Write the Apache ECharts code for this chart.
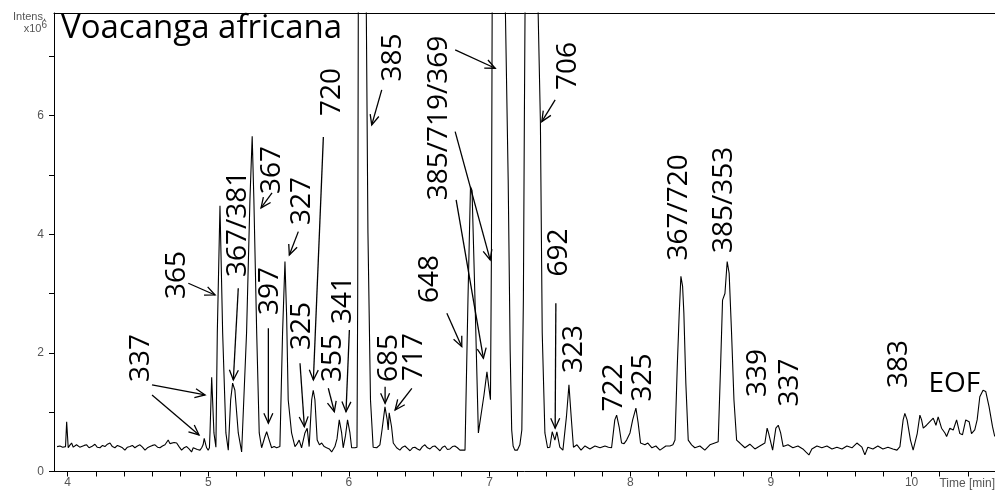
<!DOCTYPE html>
<html>
<head>
<meta charset="utf-8">
<script src="https://cdn.jsdelivr.net/npm/echarts@6/dist/echarts.min.js"></script>
<style>
html,body{margin:0;padding:0;background:#fff;}
#chart{width:995px;height:490px;}
</style>
</head>
<body>
<div id="chart"></div>
<script>
// ---- trace data (time in min, intensity x10^6) ----
const times = [3.925,3.945,3.965,3.985,3.993,4.004,4.015,4.028,4.040,4.052,4.063,4.073,4.086,4.100,4.118,4.135,4.152,4.171,4.194,4.210,4.230,4.248,4.265,4.283,4.301,4.318,4.336,4.354,4.372,4.390,4.407,4.425,4.443,4.460,4.478,4.496,4.514,4.532,4.550,4.567,4.585,4.603,4.621,4.639,4.656,4.674,4.692,4.715,4.727,4.739,4.757,4.775,4.792,4.810,4.828,4.846,4.863,4.881,4.893,4.905,4.922,4.941,4.953,4.963,4.971,4.980,4.988,4.999,
5.008,5.012,5.024,5.040,5.054,5.064,5.083,5.102,5.125,5.142,5.159,5.173,5.189,5.213,5.237,5.272,5.296,5.312,5.324,5.344,5.362,5.379,5.403,5.415,5.433,5.450,5.468,5.486,5.509,5.528,5.545,5.557,5.568,5.592,5.616,5.632,5.646,5.663,5.687,5.703,5.717,5.735,5.746,5.758,5.774,5.790,5.806,5.824,5.841,5.860,5.877,5.900,5.915,5.931,5.948,5.959,5.975,5.990,
6.007,6.019,6.042,6.057,6.062,6.067,6.096,6.121,6.135,6.153,6.172,6.197,6.220,6.235,6.256,6.272,6.279,6.286,6.296,6.303,6.315,6.339,6.362,6.380,6.398,6.416,6.434,6.452,6.469,6.487,6.504,6.522,6.540,6.558,6.576,6.594,6.611,6.629,6.647,6.665,6.682,6.700,6.718,6.736,6.753,6.771,6.789,6.803,6.825,6.846,6.864,6.875,6.898,6.920,6.932,6.960,6.981,6.995,
7.006,7.013,7.019,7.059,7.100,7.132,7.146,7.157,7.167,7.179,7.197,7.215,7.229,7.240,7.247,7.254,7.294,7.334,7.361,7.374,7.393,7.412,7.428,7.445,7.464,7.478,7.499,7.521,7.546,7.564,7.580,7.596,7.621,7.650,7.678,7.713,7.749,7.785,7.820,7.845,7.867,7.890,7.903,7.921,7.938,7.956,7.974,7.998,
8.017,8.040,8.056,8.073,8.104,8.125,8.154,8.182,8.211,8.225,8.253,8.282,8.303,8.318,8.334,8.348,8.360,8.372,8.381,8.395,8.412,8.436,8.459,8.495,8.530,8.566,8.601,8.625,8.642,8.656,8.673,8.689,8.703,8.720,8.737,8.756,8.779,8.815,8.850,8.886,8.921,8.957,8.973,8.983,8.993,
9.012,9.035,9.052,9.069,9.087,9.121,9.156,9.192,9.227,9.248,9.270,9.291,9.327,9.362,9.398,9.434,9.469,9.505,9.540,9.576,9.611,9.647,9.668,9.689,9.725,9.760,9.796,9.832,9.867,9.896,9.917,9.940,9.952,9.968,9.992,
10.011,10.040,10.059,10.071,10.083,10.106,10.130,10.154,10.173,10.189,10.213,10.237,10.249,10.272,10.296,10.320,10.343,10.362,10.385,10.409,10.426,10.449,10.466,10.485,10.508,10.527,10.551,10.575,10.591];
const intensities = [0.42,0.43,0.41,0.42,0.84,0.40,0.44,0.48,0.41,0.42,0.45,0.48,0.41,0.40,0.44,0.45,0.40,0.42,0.46,0.41,0.40,0.44,0.42,0.46,0.48,0.42,0.40,0.44,0.42,0.40,0.36,0.41,0.42,0.44,0.40,0.43,0.45,0.41,0.36,0.40,0.42,0.44,0.45,0.41,0.40,0.43,0.45,0.53,0.47,0.45,0.49,0.48,0.42,0.36,0.40,0.42,0.38,0.33,0.40,0.40,0.37,0.36,0.40,0.45,0.56,0.47,0.40,0.36,
0.40,0.65,1.59,0.65,0.41,2.34,4.48,2.34,0.65,0.36,1.21,1.49,1.37,0.65,0.33,2.34,4.58,5.65,4.58,2.34,0.65,0.40,0.59,0.67,0.53,0.40,0.42,0.40,0.42,2.34,3.54,2.61,1.21,0.65,0.42,0.47,0.53,0.40,0.65,0.73,0.42,1.21,1.37,1.21,0.53,0.45,0.48,0.42,0.40,0.38,0.33,0.42,0.55,0.87,0.65,0.40,0.60,0.87,
0.65,0.40,0.40,0.41,2.89,8.5,14.0,8.5,4.02,1.21,0.41,0.40,0.45,0.70,1.09,0.87,0.70,0.99,0.99,0.75,0.48,0.40,0.36,0.41,0.43,0.39,0.35,0.40,0.41,0.38,0.36,0.42,0.45,0.40,0.38,0.42,0.43,0.39,0.35,0.41,0.43,0.37,0.38,0.42,0.43,0.40,0.36,0.33,0.36,2.89,4.80,4.74,2.72,0.65,0.62,1.29,1.68,1.41,
1.21,3.74,8.5,18.0,9.5,4.92,2.05,0.70,0.43,0.36,0.36,0.45,0.70,2.89,5.93,8.6,19.0,9.0,5.90,2.34,0.65,0.40,0.41,0.67,0.53,0.67,0.41,0.36,0.92,1.46,0.92,0.41,0.45,0.36,0.43,0.38,0.43,0.40,0.43,0.41,0.40,0.87,0.95,0.75,0.48,0.47,0.53,0.65,
0.87,1.07,0.82,0.48,0.45,0.48,0.40,0.43,0.36,0.33,0.43,0.43,0.45,0.53,1.77,2.67,3.29,3.12,2.67,1.49,0.53,0.45,0.40,0.43,0.36,0.45,0.48,0.50,1.77,2.89,3.00,3.54,3.34,2.34,1.21,0.53,0.48,0.40,0.46,0.38,0.43,0.48,0.73,0.65,0.67,
0.36,0.73,0.78,0.65,0.42,0.45,0.40,0.43,0.38,0.33,0.28,0.38,0.43,0.40,0.43,0.38,0.41,0.38,0.43,0.40,0.48,0.41,0.28,0.41,0.38,0.43,0.38,0.41,0.38,0.36,0.42,0.87,0.98,0.87,0.53,
0.36,0.64,0.95,0.87,0.73,0.78,0.84,0.90,0.78,0.92,0.73,0.65,0.59,0.73,0.70,0.87,0.64,0.62,0.87,0.84,0.64,0.70,0.87,1.26,1.37,1.35,1.09,0.76,0.59];

// ---- axis ticks / labels ----
const xTickValues = [4,4.2,4.4,4.6,4.8,5,5.2,5.4,5.6,5.8,6,6.2,6.4,6.6,6.8,7,7.2,7.4,7.6,7.8,8,8.2,8.4,8.6,8.8,9,9.2,9.4,9.6,9.8,10,10.2,10.4];
const xLabelValues = [4,5,6,7,8,9,10];
const yTickValues = [0,1,2,3,4,5,6,7];
const yLabelValues = [0,2,4,6];

// ---- peak annotations (m/z labels), anchored in data units ----
const peakLabels = ['337','365','367/381','367','397','327','720','325','355','341','385','385/719/369','648','706','692','323','685','717','722','325','367/720','385/353','339','337','383'];
const peakLabelTimes = [4.521,4.781,5.208,5.451,5.437,5.664,5.880,5.664,5.885,5.958,6.316,6.641,6.577,7.555,7.494,7.601,6.285,6.463,7.886,8.088,8.348,8.668,8.906,9.135,9.913];
const peakLabelValues = [1.914,3.314,4.174,5.084,3.044,4.562,6.400,2.454,1.914,2.892,6.981,5.961,3.246,6.838,3.693,2.066,1.914,1.931,1.417,1.585,4.452,4.578,1.661,1.501,1.813];
const eofLabel = ['EOF'];
const eofTime = [10.304];
const eofValue = [1.476];

// arrows: from (t,v) to (t,v)
const arrowFromT = [4.600,4.600,4.858,5.213,5.453,5.427,5.640,5.818,5.652,5.853,6.003,6.233,6.755,6.755,6.762,6.696,7.466,7.471,6.257,6.447];
const arrowFromV = [1.459,1.290,3.174,3.089,4.696,2.415,4.044,5.641,1.825,1.403,2.386,6.433,7.108,5.730,4.578,2.668,6.265,2.836,1.430,1.403];
const arrowToT   = [4.977,4.934,5.048,5.178,5.375,5.427,5.576,5.747,5.683,5.896,5.979,6.162,7.040,7.004,6.956,6.802,7.371,7.466,6.257,6.328];
const arrowToV   = [1.290,0.616,2.976,1.543,4.444,0.813,3.651,1.543,0.755,1.008,1.008,5.843,6.799,3.567,1.909,2.105,5.899,0.729,1.150,1.037];

const chart = echarts.init(document.getElementById('chart'), null, {renderer: 'canvas'});

const traceData = times.map((t, i) => [t, intensities[i]]);
const labelData = peakLabels.map((s, i) => [peakLabelTimes[i], peakLabelValues[i]]);
const eofData = eofLabel.map((s, i) => [eofTime[i], eofValue[i]]);
const arrowData = arrowFromT.map((t, i) => [t, arrowFromV[i], arrowToT[i], arrowToV[i]]);

const XMIN = 3.903, XMAX = 10.593, YMIN = 0, YMAX = 7.73;
const labelFont = '28px "Open Sans"';

const option = {
  animation: false,
  backgroundColor: '#ffffff',
  grid: {left: 54, right: 0, top: 13, bottom: 18.5, containLabel: false},
  xAxis: [{
    type: 'value', min: XMIN, max: XMAX,
    axisLine: {show: true, onZero: false, lineStyle: {color: '#000', width: 1}},
    axisTick: {show: true, inside: false, length: 5, customValues: xTickValues, lineStyle: {color: '#000'}},
    axisLabel: {show: true, customValues: xLabelValues, margin: 5, color: '#555', fontSize: 12, fontFamily: 'Liberation Sans'},
    splitLine: {show: false}
  }, {
    type: 'value', min: XMIN, max: XMAX, position: 'top',
    axisLine: {show: true, onZero: false, lineStyle: {color: '#000', width: 1}},
    axisTick: {show: false}, axisLabel: {show: false}, splitLine: {show: false}
  }],
  yAxis: {
    type: 'value', min: YMIN, max: YMAX,
    axisLine: {show: true, onZero: false, lineStyle: {color: '#000', width: 1}},
    axisTick: {show: true, inside: false, length: 5, customValues: yTickValues, lineStyle: {color: '#000'}},
    axisLabel: {show: true, customValues: yLabelValues, margin: 10, color: '#555', fontSize: 12, fontFamily: 'Liberation Sans'},
    splitLine: {show: false}
  },
  graphic: [
    {type: 'text', x: 61, y: 29, z: 100, style: {text: 'Voacanga africana', font: '33px "Open Sans"', fill: '#000', align: 'left', verticalAlign: 'middle'}},
    {type: 'text', x: 46, y: 16.5, z: 100, style: {text: 'Intens.', font: '11px "Liberation Sans"', fill: '#555', align: 'right', verticalAlign: 'middle'}},
    {type: 'text', x: 47, y: 29, z: 100, style: {text: '{a|x10}{b|6}', align: 'right', verticalAlign: 'middle',
      rich: {a: {font: '11px "Liberation Sans"', fill: '#555'}, b: {font: '10px "Liberation Sans"', fill: '#555', padding: [0, 0, 7, 0]}}}},
    {type: 'text', x: 995, y: 483.5, z: 100, style: {text: 'Time [min]', font: '12px "Liberation Sans"', fill: '#555', align: 'right', verticalAlign: 'middle'}}
  ],
  series: [
    {
      type: 'line', data: traceData, showSymbol: false, symbol: 'none', clip: true,
      lineStyle: {color: '#000', width: 1.1}, z: 3
    },
    {
      type: 'custom', data: arrowData, clip: false, z: 4,
      encode: {x: [0, 2], y: [1, 3]},
      renderItem: function (params, api) {
        const a = api.coord([api.value(0), api.value(1)]);
        const b = api.coord([api.value(2), api.value(3)]);
        const ang = Math.atan2(b[1] - a[1], b[0] - a[0]);
        const L = 11, w = 0.42;
        const h1 = [b[0] - L * Math.cos(ang - w), b[1] - L * Math.sin(ang - w)];
        const h2 = [b[0] - L * Math.cos(ang + w), b[1] - L * Math.sin(ang + w)];
        return {type: 'group', children: [
          {type: 'line', shape: {x1: a[0], y1: a[1], x2: b[0], y2: b[1]}, style: {stroke: '#000', lineWidth: 1.3}},
          {type: 'polyline', shape: {points: [h1, b, h2]}, style: {stroke: '#000', fill: null, lineWidth: 1.3}}
        ]};
      }
    },
    {
      type: 'custom', data: labelData, clip: false, z: 5,
      encode: {x: 0, y: 1},
      renderItem: function (params, api) {
        const p = api.coord([api.value(0), api.value(1)]);
        return {type: 'text', x: p[0], y: p[1], rotation: Math.PI / 2,
          style: {text: peakLabels[params.dataIndex], font: labelFont, fill: '#000', align: 'center', verticalAlign: 'middle'}};
      }
    },
    {
      type: 'custom', data: eofData, clip: false, z: 5,
      encode: {x: 0, y: 1},
      renderItem: function (params, api) {
        const p = api.coord([api.value(0), api.value(1)]);
        return {type: 'text', x: p[0], y: p[1],
          style: {text: eofLabel[params.dataIndex], font: labelFont, fill: '#000', align: 'center', verticalAlign: 'middle'}};
      }
    }
  ]
};
chart.setOption(option);
</script>
</body>
</html>
